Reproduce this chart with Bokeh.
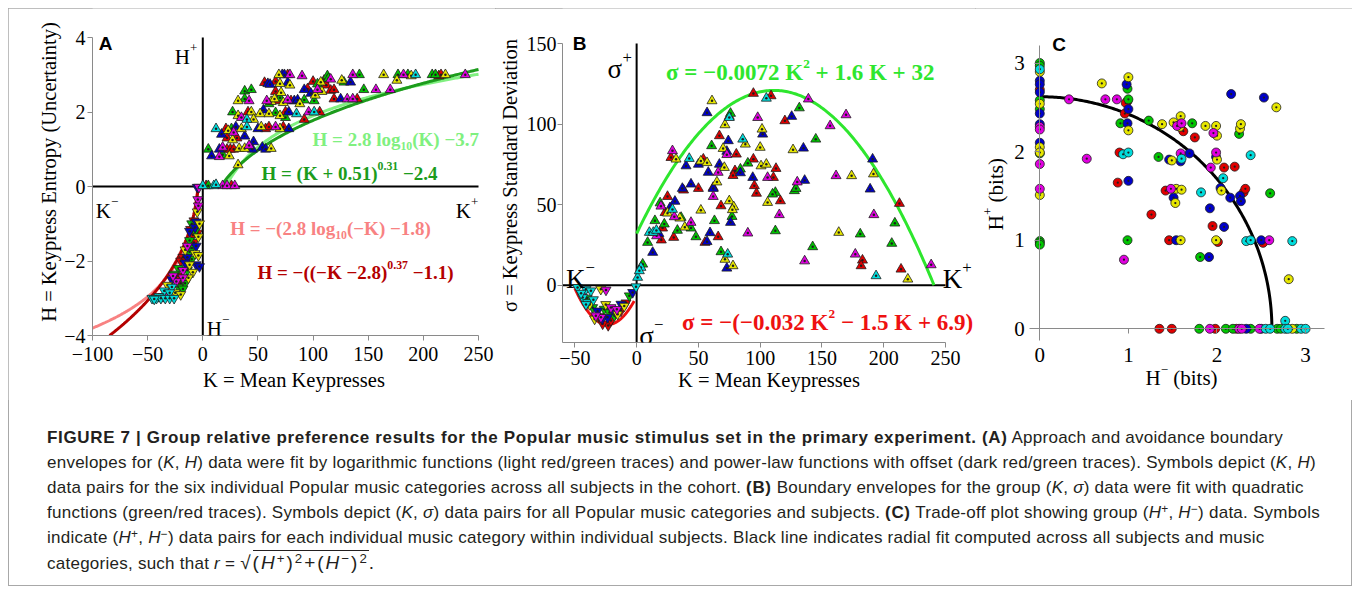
import numpy as np
from bokeh.plotting import figure
from bokeh.models import Label, FixedTicker, Div
from bokeh.layouts import row, column
from bokeh.embed import file_html
from bokeh.resources import INLINE

# ---------------- colours of the six music categories ----------------
cat_colors = {"red": "#e00000", "green": "#00c400", "blue": "#0000c8",
              "yellow": "#e6e600", "magenta": "#e000e0", "cyan": "#00dcdc"}

# ---------------- Panel A : (K, H) ----------------
a_xlim = (-100, 250)
a_ylim = (-4, 4)
a_red_k = [77, 214, 216, 56, 66, 100, 110, 112, 66, 95, 116, 119, 68, 80, 119, 140, 41, 75, 92, 106, 21, 57, 60, 73, 22, 31, 22, 25, 28, 3, 26,
           -8, -5, -9, -8, -18, -20, -22, -20, -11, -15]
a_red_h = [3.0, 2.97, 3.0, 2.79, 2.82, 2.82, 2.85, 2.72, 2.55, 2.62, 2.58, 2.6, 2.3, 2.3, 2.35, 2.35, 2.0, 2.0, 1.8, 2.0, 1.55, 1.55, 1.6, 1.6, 1.3, 1.3, 1.0, 1.0, 1.0, 0.02, 0.02,
           -0.92, -1.25, -1.3, -1.5, -1.9, -2.0, -2.4, -2.6, -1.15, -2.0]
a_green_k = [113, 142, 177, 186, 208, 211, 104, 114, 128, 38, 44, 146, 38, 70, 92, 101, 60, 27, 66, 75, 26, 5, 18, 5,
             -10, -12, -10, -12, -10, -22, -14, -26, -16, -22, -18, -7]
a_green_h = [2.97, 3.0, 3.0, 3.0, 3.0, 3.0, 2.75, 2.9, 2.8, 2.56, 2.6, 2.6, 2.35, 2.38, 2.32, 2.3, 2.22, 2.0, 1.98, 1.85, 1.55, 1.0, 0.85, 0.02,
             -1.0, -1.45, -1.65, -1.75, -1.95, -2.2, -2.25, -2.35, -2.6, -2.7, -2.75, -1.2]
a_blue_k = [72, 74, 59, 61, 77, 134, 92, 98, 83, 86, 125, 55, 78, 30, 50, 78, 17, 38, 46, 15, 45, 54, 57, 8,
            -5, -6, -7, -6, -14, -16, -6, -3, -28, -12]
a_blue_h = [3.0, 3.0, 2.76, 2.74, 2.79, 2.8, 2.6, 2.5, 2.3, 2.32, 2.35, 2.05, 2.0, 1.6, 1.55, 1.55, 1.4, 1.35, 1.2, 1.0, 1.0, 1.05, 1.0, 0.82,
            -0.02, -0.95, -1.1, -1.6, -1.9, -2.05, -2.1, -2.15, -2.5, -1.2]
a_yellow_k = [69, 164, 189, 220, 70, 79, 107, 126, 176, 71, 108, 102, 32, 62, 65, 73, 88, 32, 44, 52, 60, 70, 46, 23, 35, 53, 70, 27, 33, 38, 62, 24, 32,
              -5, -3, -4, -16, -7, -4, -12, -9, -13, -32, -25, -20]
a_yellow_h = [3.0, 3.0, 2.97, 3.0, 2.76, 2.72, 2.8, 2.85, 2.85, 2.52, 2.55, 2.45, 2.3, 2.28, 2.35, 2.25, 2.22, 1.9, 2.0, 1.95, 1.95, 1.9, 1.8, 1.5, 1.55, 1.6, 1.55, 1.25, 1.02, 1.02, 1.02, 0.82, 0.58,
              -0.68, -1.0, -1.35, -1.7, -1.8, -1.85, -2.1, -2.3, -2.45, -2.65, -2.85, -2.9]
a_magenta_k = [79, 90, 136, 182, 238, 116, 104, 157, 170, 42, 58, 77, 131, 136, 35, 96, 66, 28, 18, 42, 15, 18, 22, 29,
               -3.5, -4.5, -4, -14, -18, -18, -24, -36, -27]
a_magenta_h = [3.0, 2.97, 3.0, 3.0, 3.0, 2.88, 2.6, 2.6, 2.6, 2.3, 2.3, 2.32, 2.35, 2.35, 1.85, 2.0, 1.6, 1.45, 1.05, 1.1, 0.8, 0.02, 0.02, 0.02,
               -0.02, -0.35, -0.52, -1.6, -2.25, -2.45, -2.55, -2.95, -2.4]
a_cyan_k = [193, 85, 101, 40, 12, 40, 0, 10, 12,
            -28, -35, -30, -40, -46, -42, -38, -34, -30, -26, -44]
a_cyan_h = [3.0, 1.95, 2.0, 1.8, 1.55, 1.6, 0.02, 0.02, 0.05,
            -2.7, -2.8, -2.85, -2.95, -3.0, -3.0, -3.0, -3.0, -3.0, -3.0, -3.02]

# fits in panel A
a_log_pos = (2.8, -3.7)        # H = 2.8 log10(K) - 3.7
a_pow_pos = (0.51, 0.31, -2.4)  # H = (K + 0.51)^0.31 - 2.4
a_log_neg = (2.8, -1.8)        # H = -(2.8 log10(-K) - 1.8)
a_pow_neg = (2.8, 0.37, -1.1)   # H = -((-K - 2.8)^0.37 - 1.1)

# ---------------- Panel B : (K, sigma) ----------------
b_xlim = (-60, 250)
b_ylim = (-35.6, 150)
b_red_k = [94.5, 108.8, 75, 120, 67, 80.7, 27.8, 54, 94.5, 112.8, 79.6, 95.3, 110.7, 62, 212.7, 214, 182.8, 181.7, 116.4, 68.3, 66, 55.3, 23, 30, 21, 25, 20, 50, 38, 97, 78,
           -23, -27.5, -20.8, -12.7, -8.6, -30]
b_red_s = [119, 117.5, 104.7, 102, 92.7, 81.3, 79.2, 78.2, 78.2, 72.4, 71, 61.7, 66.8, 60.6, 50.7, 9.9, 15.5, 12, 52.3, 49.2, 30, 26.5, 45, 29.6, 35.4, 55, 28, 60, 59, 57, 68,
           -25, -24, -22, -16, -11, -19.5]
b_green_k = [131.7, 76, 145, 60.7, 90, 127.7, 129, 209, 206.5, 181, 142.5, 112.3, 112.3, 110, 77.2, 63, 68.3, 19, 14.8, 22.4, 44, 8.9, 4.9, 36, 48, 33, 84,
             -35.6, -26.2, -18, -5.9, -40, -22]
b_green_s = [110, 106.6, 90.6, 86.5, 75.7, 58.6, 60, 38.5, 25.9, 31.7, 23.8, 33.7, 57.5, 56.5, 42.6, 40, 20.7, 51, 40, 37.9, 35.4, 26.5, 13, 42, 30, 34, 72,
             -13.9, -14.9, -19, -6.6, -8, -17]
b_blue_k = [57, 125.5, 102, 74.2, 73, 135, 50, 40, 67, 84, 94, 136, 191, 189, 59.4, 57, 76, 73, 44, 37, 13, 31, 58, 62, 27, 18,
            -31.6, -16.7, -23.5, -12.7, -20, -3.2, -28]
b_blue_s = [107, 104.7, 93.7, 89.6, 83, 85, 75, 74, 75, 69.7, 66.8, 65, 78.2, 59.6, 32.5, 27, 38.9, 10.5, 62.7, 60, 20.3, 52, 70, 60, 48, 32,
            -16, -17, -20, -11.8, -15, -4.5, -21]
b_yellow_k = [61, 71.5, 101.5, 88, 100, 70, 126.6, 31.9, 52, 100.7, 105, 71, 174, 191.7, 106, 75, 78.6, 77.5, 163.6, 219.5, 71.5, 78, 35, 52, 25, 57, 65, 39,
              -29, -15.4, -34, -10, -25, -38]
b_yellow_s = [114.4, 99.5, 96.8, 87.5, 85.5, 84.8, 84, 78.2, 77, 74, 75, 73, 67.9, 69, 51.3, 52.3, 48.6, 46.8, 32.7, 3.7, 16, 12, 41.6, 46.5, 44.7, 76, 64, 36,
              -2.5, -18, -21, -13, -12, -12]
b_magenta_k = [139, 98, 169.5, 156.6, 29, 73, 161.4, 106, 130, 192, 115.5, 90, 177, 136, 238.4, 19.7, 30.5, 44, 16.2, 62, 66,
               -24.8, -28.9, -20.8, -16, -44, -33]
b_magenta_s = [115.5, 104, 105.7, 98.9, 83.4, 81, 67.9, 66.8, 64, 43.7, 43.7, 32.3, 19.2, 15, 12.6, 49, 42.4, 38.9, 30.6, 55, 70,
               -3, -20, -13.9, -15, -6, -19]
b_cyan_k = [105, 85.9, 42.6, 193.8, 73.7, 10.3, 13.5, 3.5, 0.8, 2.2, 16, 29, 75,
            -47.8, -41, -37, -43.7, -39.7, -41, -45, -35, -0.5]
b_cyan_s = [116, 90.6, 78.6, 5.8, 19.2, 32.7, 32.7, 11, 4.8, 8.9, 34, 47, 104,
            -1.4, -2.5, -3.5, -7.7, -10.8, -12, -5, -9, -1]

b_quad_pos = (-0.0072, 1.6, 32)    # sigma = -0.0072 K^2 + 1.6 K + 32
b_quad_neg = (-0.032, -1.5, 6.9)   # sigma = -(-0.032 K^2 - 1.5 K + 6.9)

# ---------------- Panel C : (H-, H+) ----------------
c_xlim = (-0.12, 3.21)
c_ylim = (-0.13, 3.2)
c_red_x = [0, 0.99, 0.97, 0.96, 0.9, 0.88, 1.62, 1.75, 2.08, 2.2, 2.3, 2.32, 1.42, 1.26, 1.95, 1.46, 2.01, 2.52, 1.35, 1.49, 1.98, 2.22]
c_red_y = [2.7, 2.57, 2.55, 2.43, 1.99, 1.65, 2.23, 2.16, 1.82, 1.83, 1.54, 1.58, 1.56, 1.29, 1.16, 1.0, 0.98, 0.97, 0, 0, 0, 0]
c_green_x = [0, 0, 0, 0, 0, 0, 0, 0, 0.99, 1.0, 0.91, 0.99, 1.23, 1.72, 2.25, 1.34, 2.6, 1.81, 1.8, 2.1, 2.18, 2.38, 2.68, 2.72, 2.9]
c_green_y = [3.0, 2.97, 2.58, 2.48, 1.98, 0.99, 0.97, 0.95, 2.71, 2.59, 2.32, 1.0, 2.35, 2.32, 2.2, 1.94, 1.53, 0.81, 0, 0, 0, 0, 0, 0, 0]
c_blue_x = [0, 0, 0, 0, 0, 0, 0.98, 1.0, 0.99, 1.0, 2.16, 2.53, 1.46, 1.59, 1.69, 1.99, 2.04, 2.15, 2.26, 2.27, 1.51, 1.92, 2.08, 1.54, 2.5, 1.91, 2.33, 2.5]
c_blue_y = [2.8, 2.76, 2.67, 2.43, 2.31, 2.1, 2.76, 2.48, 2.32, 1.67, 2.65, 2.61, 1.91, 1.89, 1.98, 1.94, 1.59, 1.48, 1.5, 1.44, 1.48, 1.36, 1.15, 1.0, 1.0, 0.81, 0, 0]
c_yellow_x = [0, 0, 0, 0, 0, 0.7, 1.0, 1.0, 1.38, 1.51, 1.59, 1.58, 1.87, 1.99, 2.0, 2.26, 2.27, 2.67, 1.49, 2.0, 2.05, 1.54, 1.6, 1.53, 1.59, 1.99, 2.81, 2.85]
c_yellow_y = [2.9, 2.54, 2.05, 1.99, 1.51, 2.77, 2.84, 2.24, 2.31, 2.33, 2.4, 2.28, 2.29, 2.29, 2.18, 2.26, 2.31, 2.5, 1.9, 1.91, 1.56, 1.58, 1.57, 1.42, 1.0, 1.0, 0.56, 0]
c_magenta_x = [0, 0, 0, 0, 0.33, 0.74, 0.87, 0.53, 0.95, 1.55, 1.6, 1.96, 1.59, 1.93, 1.99, 1.48, 2.59, 1.92, 2.25, 2.28, 2.48]
c_magenta_y = [2.28, 2.25, 1.86, 1.58, 2.59, 2.59, 2.59, 1.92, 0.78, 2.29, 2.32, 2.21, 1.98, 1.82, 1.99, 1.58, 1.0, 0, 0, 0, 0]
c_cyan_x = [0, 0.94, 1.0, 1.6, 2.38, 2.07, 1.82, 2.33, 2.38, 2.85, 2.77, 2.55, 2.6, 2.77, 2.8, 2.95, 3.0]
c_cyan_y = [2.93, 1.97, 1.99, 1.92, 1.96, 1.7, 1.54, 0.99, 1.0, 0.99, 0.09, 0, 0, 0, 0, 0, 0]
c_radius = 2.62

# ---------------- helpers ----------------
SERIF = "Liberation Serif"
SANS = "Liberation Sans"
AXIS_GRAY = "#8a8a8a"

W_BOLD = {' ': 250, '(': 333, ')': 333, '+': 570, '.': 250, '=': 570, 'H': 778, 'K': 778,
          'l': 278, 'o': 500, 'g': 500, '\u2212': 570, '\u03c3': 550}
W_REG = {' ': 250, '(': 333, ')': 333, '+': 564, '.': 250, '=': 564, 'H': 722, 'K': 722,
         '\u2212': 564, '\u03c3': 550, 'b': 500, 'i': 278, 't': 278, 's': 389}


def tw(s, bold, fs):
    table = W_BOLD if bold else W_REG
    return sum(table.get(ch, 500) for ch in s) * fs / 1000.0


def rich(p, x, y, segs, fs, color, bold=True, sup_scale=0.62, sup_rise=0.42, sub_drop=0.3, center=False):
    labels = []
    off = 0.0
    for txt, kind in segs:
        if kind == "n":
            sz, dy = fs, 0.0
        elif kind == "sup":
            sz, dy = fs * sup_scale, fs * sup_rise
        else:
            sz, dy = fs * sup_scale, -fs * sub_drop
        lead = len(txt) - len(txt.lstrip(' '))
        trail = len(txt) - len(txt.rstrip(' '))
        core = txt.strip(' ')
        off += tw(' ' * lead, bold, sz)
        lab = Label(x=x, y=y, x_offset=off, y_offset=dy, text=core,
                    text_font=SERIF, text_font_size=f"{sz:.1f}px",
                    text_font_style="bold" if bold else "normal",
                    text_color=color, text_baseline="alphabetic", text_align="left")
        labels.append(lab)
        off += tw(core, bold, sz) + tw(' ' * trail, bold, sz)
    for lab in labels:
        if center:
            lab.x_offset -= off / 2
        p.add_layout(lab)


def style(p, xt, yt, xb, yb, xover=None, yover=None):
    p.outline_line_color = None
    p.grid.visible = False
    p.xaxis.ticker = FixedTicker(ticks=xt)
    p.yaxis.ticker = FixedTicker(ticks=yt)
    p.xaxis.bounds = xb
    p.yaxis.bounds = yb
    if xover:
        p.xaxis.major_label_overrides = xover
    if yover:
        p.yaxis.major_label_overrides = yover
    for ax in p.axis:
        ax.axis_line_color = AXIS_GRAY
        ax.axis_line_width = 1
        ax.major_tick_line_color = AXIS_GRAY
        ax.major_tick_out = 5
        ax.major_tick_in = 0
        ax.minor_tick_line_color = None
        ax.major_label_text_font = SERIF
        ax.major_label_text_font_size = "20px"
        ax.major_label_text_color = "black"
        ax.axis_label_text_font = SERIF
        ax.axis_label_text_font_size = "20.5px"
        ax.axis_label_text_font_style = "normal"
        ax.axis_label_text_color = "black"


def points(p, ks, vs, color, marker="triangle_dot", size=10):
    ks = np.asarray(ks, float)
    vs = np.asarray(vs, float)
    pos = ks >= 0
    for mask, ang in ((pos, 0.0), (~pos, np.pi)):
        if mask.any():
            p.scatter(ks[mask], vs[mask], marker=marker, size=size, angle=ang,
                      fill_color=color, line_color="#1e1e1e", line_width=0.8)


def zero_axes(p, xlim, ylim):
    p.segment(x0=[xlim[0], 0], y0=[0, ylim[0]], x1=[xlim[1], 0], y1=[0, ylim[1]],
              line_color="black", line_width=2)


def neg(v):
    return {t: "\u2212" + str(abs(t)) for t in v if t < 0}

# ================= Panel A =================
# frame reaches to the right/top edge of its cell so that annotations are not clipped
pxA, pyA = 386 / (a_xlim[1] - a_xlim[0]), 298 / (a_ylim[1] - a_ylim[0])
fwA, fhA = 403, 327
pA = figure(frame_width=fwA, frame_height=fhA,
            x_range=(a_xlim[0], a_xlim[0] + fwA / pxA), y_range=(a_ylim[0], a_ylim[0] + fhA / pyA),
            output_backend="svg", toolbar_location=None,
            min_border_left=84, min_border_right=0, min_border_top=0, min_border_bottom=65)
xtA = [-100, -50, 0, 50, 100, 150, 200, 250]
ytA = [-4, -2, 0, 2, 4]
style(pA, xtA, ytA, a_xlim, a_ylim, neg(xtA), neg(ytA))
pA.xaxis.axis_label = "K = Mean Keypresses"
pA.yaxis.axis_label = "H = Keypress Entropy (Uncertainty)"
pA.xaxis.major_label_standoff = 6
pA.yaxis.major_label_standoff = 2
pA.xaxis.axis_label_standoff = 5
pA.yaxis.axis_label_standoff = 1
zero_axes(pA, a_xlim, a_ylim)

k_lg = np.linspace(10 ** (-a_log_pos[1] / a_log_pos[0]), a_xlim[1], 200)
k_dg = np.linspace((-a_pow_pos[2]) ** (1 / a_pow_pos[1]) - a_pow_pos[0], a_xlim[1], 200)
k_lr = np.linspace(a_xlim[0], -10 ** (-a_log_neg[1] / a_log_neg[0]), 200)
k_dr = np.linspace(-((-a_ylim[0] - a_pow_neg[2]) ** (1 / a_pow_neg[1]) + a_pow_neg[0]),
                   -((-a_pow_neg[2]) ** (1 / a_pow_neg[1]) + a_pow_neg[0]), 200)
pA.line(k_lr, -(a_log_neg[0] * np.log10(-k_lr) + a_log_neg[1]), line_color="#f88282", line_width=3)
pA.line(k_dr, -((-k_dr - a_pow_neg[0]) ** a_pow_neg[1] + a_pow_neg[2]), line_color="#b40000", line_width=3)
pA.line(k_lg, a_log_pos[0] * np.log10(k_lg) + a_log_pos[1], line_color="#80f080", line_width=3)
pA.line(k_dg, (k_dg + a_pow_pos[0]) ** a_pow_pos[1] + a_pow_pos[2], line_color="#1c9c1c", line_width=3)

for ks, hs, col in ((a_red_k, a_red_h, "red"), (a_green_k, a_green_h, "green"),
                    (a_blue_k, a_blue_h, "blue"), (a_yellow_k, a_yellow_h, "yellow"),
                    (a_magenta_k, a_magenta_h, "magenta"), (a_cyan_k, a_cyan_h, "cyan")):
    points(pA, ks, hs, cat_colors[col])

rich(pA, 99.5, 1.25, [("H = 2.8 log", "n"), ("10", "sub"), ("(K) \u22123.7", "n")], 19, "#80f080")
rich(pA, 53.2, 0.34, [("H = (K + 0.51)", "n"), ("0.31", "sup"), (" \u22122.4", "n")], 19, "#1c9c1c")
rich(pA, 24.8, -1.14, [("H = \u2212(2.8 log", "n"), ("10", "sub"), ("(\u2212K) \u22121.8)", "n")], 19, "#f88282")
rich(pA, 49.6, -2.32, [("H = \u2212((\u2212K \u22122.8)", "n"), ("0.37", "sup"), (" \u22121.1)", "n")], 19, "#b40000")

rich(pA, -25.4, 3.47, [("H", "n"), ("+", "sup")], 21, "black", bold=False)
rich(pA, -97, -0.66, [("K", "n"), ("\u2212", "sup")], 21, "black", bold=False)
rich(pA, 229.4, -0.66, [("K", "n"), ("+", "sup")], 21, "black", bold=False)
rich(pA, 3.6, -3.83, [("H", "n"), ("\u2212", "sup")], 21, "black", bold=False)
pA.add_layout(Label(x=-94.3, y=3.84, text="A", text_font=SANS, text_font_style="bold",
                    text_font_size="19px", text_color="black", text_baseline="alphabetic"))

# ================= Panel B =================
pxB, pyB = 383 / (b_xlim[1] - b_xlim[0]), 299 / (b_ylim[1] - b_ylim[0])
fwB, fhB = 413, 334
pB = figure(frame_width=fwB, frame_height=fhB,
            x_range=(b_xlim[0], b_xlim[0] + fwB / pxB), y_range=(b_ylim[0], b_ylim[0] + fhB / pyB),
            output_backend="svg", toolbar_location=None,
            min_border_left=67, min_border_right=0, min_border_top=0, min_border_bottom=58)
xtB = [-50, 0, 50, 100, 150, 200, 250]
ytB = [0, 50, 100, 150]
style(pB, xtB, ytB, b_xlim, b_ylim, neg(xtB))
pB.xaxis.axis_label = "K = Mean Keypresses"
pB.yaxis.axis_label = "\u03c3 = Keypress Standard Deviation"
pB.xaxis.major_label_standoff = 3
pB.yaxis.major_label_standoff = 1
pB.xaxis.axis_label_standoff = 1
pB.yaxis.axis_label_standoff = 3
zero_axes(pB, b_xlim, b_ylim)

aq, bq, cq = b_quad_pos
k_gq = np.linspace(0, (-bq - np.sqrt(bq * bq - 4 * aq * cq)) / (2 * aq), 200)
pB.line(k_gq, aq * k_gq ** 2 + bq * k_gq + cq, line_color="#2ee62e", line_width=3)
an, bn, cn = b_quad_neg
k_rq = np.linspace(-50, -2, 200)
pB.line(k_rq, -(an * k_rq ** 2 + bn * k_rq + cn), line_color="#ee1111", line_width=3)

for ks, ss, col in ((b_red_k, b_red_s, "red"), (b_green_k, b_green_s, "green"),
                    (b_blue_k, b_blue_s, "blue"), (b_yellow_k, b_yellow_s, "yellow"),
                    (b_magenta_k, b_magenta_s, "magenta"), (b_cyan_k, b_cyan_s, "cyan")):
    points(pB, ks, ss, cat_colors[col])

rich(pB, 23.7, 132, [("\u03c3 = \u22120.0072 K", "n"), ("2", "sup"), (" + 1.6 K + 32", "n")], 23, "#2ee62e",
     sup_scale=0.58, sup_rise=0.38)
rich(pB, 36.7, -23.2, [("\u03c3 = \u2212(\u22120.032 K", "n"), ("2", "sup"), (" \u2212 1.5 K + 6.9)", "n")], 23, "#ee1111",
     sup_scale=0.58, sup_rise=0.38)
rich(pB, -23.5, 134, [("\u03c3", "n"), ("+", "sup")], 27, "black", bold=False)
rich(pB, -57.2, 3.7, [("K", "n"), ("\u2212", "sup")], 27, "black", bold=False)
rich(pB, 247.8, 3.7, [("K", "n"), ("+", "sup")], 27, "black", bold=False)
rich(pB, 2.1, -31.5, [("\u03c3", "n"), ("\u2212", "sup")], 27, "black", bold=False)
pB.add_layout(Label(x=-51.8, y=150, text="B", text_font=SANS, text_font_style="bold",
                    text_font_size="19px", text_color="black", text_baseline="alphabetic"))

# ================= Panel C =================
pxC, pyC = 295 / (c_xlim[1] - c_xlim[0]), 295 / (c_ylim[1] - c_ylim[0])
fwC = 377
c_x0 = -64.3 / pxC      # whole cell is the frame; axes drawn at 0
c_y0 = -71.7 / pyC
pC = figure(frame_width=fwC, frame_height=392,
            x_range=(c_x0, c_x0 + fwC / pxC), y_range=(c_y0, c_y0 + 392 / pyC),
            output_backend="svg", toolbar_location=None,
            min_border_left=0, min_border_right=0, min_border_top=0, min_border_bottom=0)
style(pC, [0, 1, 2, 3], [0, 1, 2, 3], c_xlim, c_ylim)
pC.xaxis.fixed_location = 0
pC.yaxis.fixed_location = 0
pC.xaxis.major_label_standoff = 14
pC.yaxis.major_label_standoff = 10
pC.xaxis.major_label_text_font_size = "21px"
pC.yaxis.major_label_text_font_size = "21px"

th = np.linspace(0, np.pi / 2, 200)
pC.line(c_radius * np.cos(th), c_radius * np.sin(th), line_color="black", line_width=3)
for xs, ys, col in ((c_red_x, c_red_y, "red"), (c_green_x, c_green_y, "green"),
                    (c_blue_x, c_blue_y, "blue"), (c_yellow_x, c_yellow_y, "yellow"),
                    (c_magenta_x, c_magenta_y, "magenta"), (c_cyan_x, c_cyan_y, "cyan")):
    pC.scatter(xs, ys, marker="circle_dot", size=9, fill_color=cat_colors[col],
               line_color="#1e1e1e", line_width=0.8)

fsC = 21
rich(pC, 1.6, -0.56, [("H", "n"), ("\u2212", "sup"), (" (bits)", "n")], fsC, "black", bold=False, center=True)
yw = tw("H", False, fsC) + tw("+", False, fsC * 0.62) + tw(" (bits)", False, fsC)
offY = -yw / 2
for txt, kind in (("H", "n"), ("+", "sup"), ("(bits)", "n")):
    sz = fsC if kind == "n" else fsC * 0.62
    dy = fsC * 0.42 if kind == "sup" else 0.0
    if txt == "(bits)":
        offY += tw(" ", False, fsC)
    pC.add_layout(Label(x=-0.489, y=1.52, x_offset=-dy, y_offset=offY, angle=np.pi / 2, text=txt,
                        text_font=SERIF, text_font_size=f"{sz:.1f}px", text_color="black",
                        text_baseline="alphabetic", text_align="left"))
    offY += tw(txt, False, sz)
pC.add_layout(Label(x=0.14, y=3.21, text="C", text_font=SANS, text_font_style="bold",
                    text_font_size="19px", text_color="black", text_baseline="alphabetic"))

# ================= caption =================
caption = (
    '<style>sup{font-size:70%;line-height:0;vertical-align:0.45em}'
    '.ov{border-top:1px solid #231f20;padding-top:1px}'
    '.fm{font-size:19px;letter-spacing:2px}'
    'b{letter-spacing:0.65px}</style>'
    '<div style="font-family:\'Liberation Sans\',Arial,sans-serif;font-size:17px;line-height:25px;'
    'letter-spacing:0.25px;color:#231f20;padding:25px 0 0 39px;white-space:nowrap;">'
    '<b>FIGURE 7 | Group relative preference results for the Popular music stimulus set in the primary experiment. (A)</b> '
    'Approach and avoidance boundary<br>'
    'envelopes for (<i>K</i>, <i>H</i>) data were fit by logarithmic functions (light red/green traces) and power-law '
    'functions with offset (dark red/green traces). Symbols depict (<i>K</i>, <i>H</i>)<br>'
    'data pairs for the six individual Popular music categories across all subjects in the cohort. <b>(B)</b> Boundary '
    'envelopes for the group (<i>K</i>, <i>\u03c3</i>) data were fit with quadratic<br>'
    'functions (green/red traces). Symbols depict (<i>K</i>, <i>\u03c3</i>) data pairs for all Popular music categories '
    'and subjects. <b>(C)</b> Trade-off plot showing group (<i>H</i><sup>+</sup>, <i>H</i><sup>\u2212</sup>) data. Symbols<br>'
    'indicate (<i>H</i><sup>+</sup>, <i>H</i><sup>\u2212</sup>) data pairs for each individual music category within '
    'individual subjects. Black line indicates radial fit computed across all subjects and music<br>'
    'categories, such that <i>r</i> = <span class="fm">\u221a<span class="ov">(<i>H</i><sup>+</sup>)<sup>2</sup>+(<i>H</i><sup>\u2212</sup>)<sup>2</sup></span>.</span>'
    '</div>'
)
cap = Div(text=caption, width=1344, height=186, margin=(0, 0, 0, 0))

layout = column(row(pA, pB, pC), cap, margin=(8, 0, 0, 8),
                styles={"outline": "1px solid #a8a8a8", "outline-offset": "-1px"})

open("out.html", "w").write(file_html(layout, INLINE))
